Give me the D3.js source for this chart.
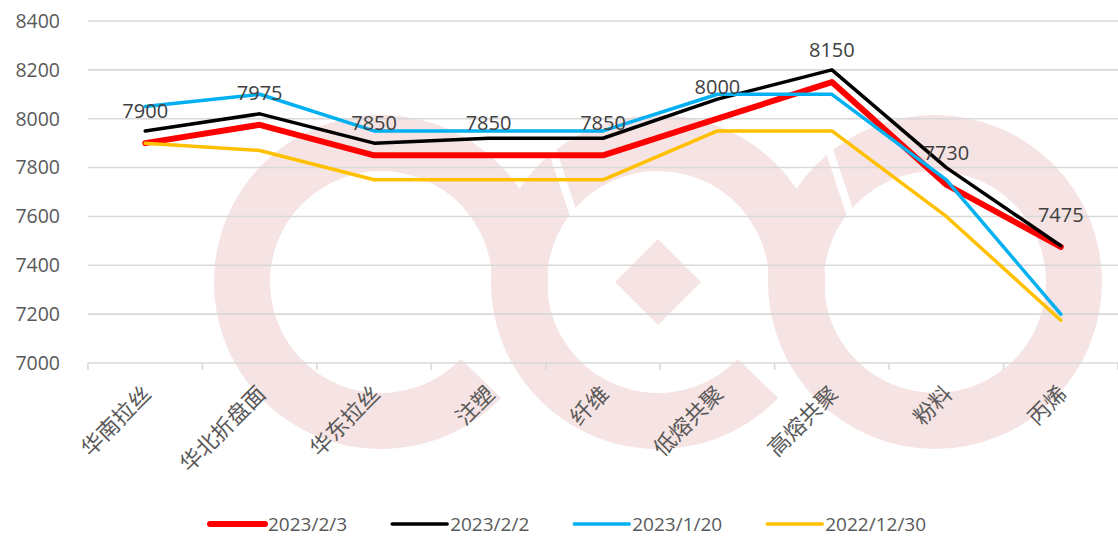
<!DOCTYPE html>
<html lang="zh">

<head>
  <meta charset="UTF-8">
  <title>价格走势</title>
  <script type="text/javascript" src="https://d3js.org/d3.v7.min.js"></script>
  <style>
    body { margin: 0; background: #fff; }
  </style>
</head>

<body>
  <svg width="1118" height="536" style="background-color: #fff;"></svg>
</body>

<script>

  const categories = ['华南拉丝', '华北折盘面', '华东拉丝', '注塑', '纤维', '低熔共聚', '高熔共聚', '粉料', '丙烯']
  const seriesNames = ['2023/2/3', '2023/2/2', '2023/1/20', '2022/12/30']
  const v20230203 = [7900, 7975, 7850, 7850, 7850, 8000, 8150, 7730, 7475]
  const v20230202 = [7950, 8020, 7900, 7920, 7920, 8080, 8200, 7800, 7480]
  const v20230120 = [8050, 8100, 7950, 7950, 7950, 8100, 8100, 7750, 7200]
  const v20221230 = [7900, 7870, 7750, 7750, 7750, 7950, 7950, 7600, 7175]
  const yTicks = [7000, 7200, 7400, 7600, 7800, 8000, 8200, 8400]

  const colors = ['#ff0000', '#000000', '#00b0f0', '#ffc000']
  const widths = [6, 3.5, 3.5, 3.5]

  const series = [v20230203, v20230202, v20230120, v20221230].map((values, i) => ({
    name: seriesNames[i], values: values, color: colors[i], width: widths[i]
  }))

  const svg = d3.select("svg");
  const width = +svg.attr("width");
  const height = +svg.attr("height");

  const margin = { left: 88, top: 21, right: 0, bottom: 173 };

  const x = d3.scaleBand()
    .domain(categories)
    .range([margin.left, width - margin.right])

  const y = d3.scaleLinear()
    .domain([7000, 8400])
    .range([height - margin.bottom, margin.top])

  const cx = c => x(c) + x.bandwidth() / 2

  /**
   * 背景水印（三个圆环 + 菱形）
   */
  const wm = svg.append("g").attr("fill", "#f6e3e3")
  const ringArc = d3.arc().innerRadius(111).outerRadius(167)
  const deg = Math.PI / 180
  const rings = [
    { c: [381, 282], parts: [[134, 455]] },
    { c: [658, 282], parts: [[134, 455]] },
    { c: [935, 282], parts: [[0, 360]] }
  ]
  rings.forEach(r => {
    r.parts.forEach(p => {
      wm.append("path")
        .attr("transform", "translate(" + r.c + ")")
        .attr("d", ringArc({ startAngle: p[0] * deg, endAngle: p[1] * deg }))
    })
  })
  wm.append("path")
    .attr("d", "M615,282 L658,239 L701,282 L658,325 Z")

  // 左上方的细缺口
  const cuts = [[[546, 131], [576, 222]], [[823, 131], [853, 222]]]
  wm.selectAll(".cut")
    .data(cuts)
    .join("line")
    .attr("class", "cut")
    .attr("x1", d => d[0][0]).attr("y1", d => d[0][1])
    .attr("x2", d => d[1][0]).attr("y2", d => d[1][1])
    .attr("stroke", "#fff")
    .attr("stroke-width", 8)

  /**
   * 网格线 + 坐标轴
   */
  const grid = svg.append("g")
  grid.selectAll("line")
    .data(yTicks)
    .join("line")
    .attr("x1", margin.left)
    .attr("x2", width)
    .attr("y1", d => y(d))
    .attr("y2", d => y(d))
    .attr("stroke", "#d9d9d9")
    .attr("stroke-width", 1.6)

  svg.append("g")
    .selectAll("text")
    .data(yTicks)
    .join("text")
    .attr("x", 60)
    .attr("y", d => y(d))
    .attr("dy", "0.35em")
    .attr("text-anchor", "end")
    .attr("font-family", "'Open Sans', 'Noto Sans', sans-serif")
    .attr("font-size", "19.5px")
    .attr("fill", "#595959")
    .text(d => d)

  // x轴刻度线（类别边界）
  const bounds = categories.map(c => x(c)).concat([width - margin.right])
  svg.append("g")
    .selectAll("line")
    .data(bounds)
    .join("line")
    .attr("x1", d => d)
    .attr("x2", d => d)
    .attr("y1", y(7000))
    .attr("y2", y(7000) + 7)
    .attr("stroke", "#d9d9d9")
    .attr("stroke-width", 1.6)

  svg.append("g")
    .selectAll("text")
    .data(categories)
    .join("text")
    .attr("transform", d => "translate(" + (cx(d) + 2) + "," + 390 + ") rotate(-45)")
    .attr("dy", "0.35em")
    .attr("text-anchor", "end")
    .attr("font-family", "'Noto Sans CJK SC', sans-serif")
    .attr("font-size", "22px")
    .attr("fill", "#595959")
    .text(d => d)

  /**
   * 折线
   */
  const line = d3.line()
    .x((d, i) => cx(categories[i]))
    .y(d => y(d))

  svg.append("g")
    .selectAll("path")
    .data(series)
    .join("path")
    .attr("fill", "none")
    .attr("stroke", d => d.color)
    .attr("stroke-width", d => d.width)
    .attr("stroke-linejoin", "round")
    .attr("stroke-linecap", "round")
    .attr("d", d => line(d.values))

  // 数据标签（2023/2/3）
  svg.append("g")
    .selectAll("text")
    .data(v20230203)
    .join("text")
    .attr("x", (d, i) => cx(categories[i]))
    .attr("y", d => y(d) - 25)
    .attr("text-anchor", "middle")
    .attr("font-family", "'Open Sans', 'Noto Sans', sans-serif")
    .attr("font-size", "20px")
    .attr("fill", "#404040")
    .text(d => d)

  /**
   * 图例
   */
  const legend = svg.append("g")
  let lx = 210
  const ly = 524
  series.forEach(s => {
    legend.append("line")
      .attr("x1", lx)
      .attr("x2", lx + 55)
      .attr("y1", ly)
      .attr("y2", ly)
      .attr("stroke", s.color)
      .attr("stroke-width", s.width)
      .attr("stroke-linecap", "round")
    const t = legend.append("text")
      .attr("x", lx + 58)
      .attr("y", ly)
      .attr("dy", "0.35em")
      .attr("font-family", "'Open Sans', 'Noto Sans', sans-serif")
      .attr("font-size", "19px")
      .attr("fill", "#595959")
      .text(s.name)
    lx += 58 + t.node().getComputedTextLength() + 45
  })

</script>

</html>
